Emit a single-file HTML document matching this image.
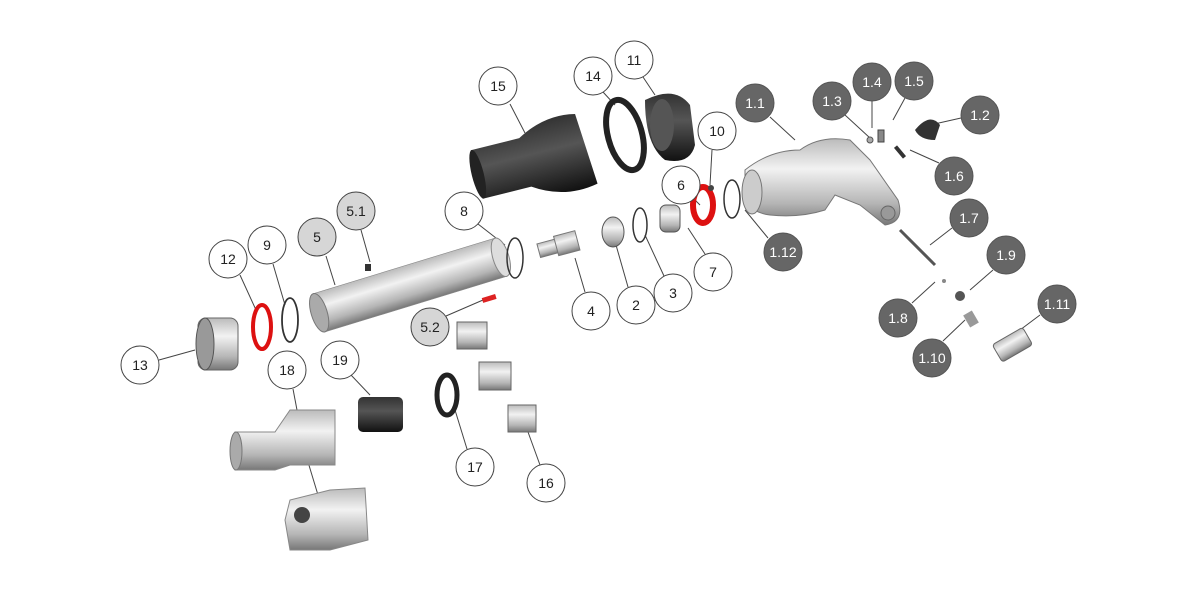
<!DOCTYPE html>
<html><head><meta charset="utf-8"><style>
html,body{margin:0;padding:0;background:#fff;}
svg{display:block;}
text{font-family:"Liberation Sans",Arial,sans-serif;font-size:14px;text-anchor:middle;dominant-baseline:central;}
</style></head><body>
<svg width="1200" height="600" viewBox="0 0 1200 600" xmlns="http://www.w3.org/2000/svg">
<defs>
<linearGradient id="g" x1="0" y1="0" x2="0" y2="1">
<stop offset="0" stop-color="#bbb"/><stop offset="0.35" stop-color="#f2f2f2"/><stop offset="0.75" stop-color="#b5b5b5"/><stop offset="1" stop-color="#777"/></linearGradient>
<linearGradient id="k" x1="0" y1="0" x2="0" y2="1">
<stop offset="0" stop-color="#333"/><stop offset="0.4" stop-color="#555"/><stop offset="1" stop-color="#111"/></linearGradient>
</defs>
<!-- leader lines -->
<g stroke="#444" stroke-width="1" fill="none">
<line x1="510" y1="104" x2="525" y2="133"/>
<line x1="603" y1="92" x2="615" y2="105"/>
<line x1="643" y1="77" x2="655" y2="95"/>
<line x1="712" y1="150" x2="710" y2="185"/>
<line x1="693" y1="198" x2="700" y2="205"/>
<line x1="770" y1="117" x2="795" y2="140"/>
<line x1="845" y1="115" x2="870" y2="138"/>
<line x1="872" y1="101" x2="872" y2="128"/>
<line x1="905" y1="98" x2="893" y2="120"/>
<line x1="961" y1="118" x2="930" y2="125"/>
<line x1="939" y1="163" x2="910" y2="150"/>
<line x1="952" y1="228" x2="930" y2="245"/>
<line x1="768" y1="238" x2="745" y2="210"/>
<line x1="993" y1="270" x2="970" y2="290"/>
<line x1="1040" y1="315" x2="1020" y2="330"/>
<line x1="912" y1="303" x2="935" y2="282"/>
<line x1="943" y1="341" x2="965" y2="320"/>
<line x1="478" y1="224" x2="505" y2="245"/>
<line x1="273" y1="264" x2="285" y2="305"/>
<line x1="240" y1="275" x2="256" y2="310"/>
<line x1="326" y1="256" x2="335" y2="285"/>
<line x1="361" y1="230" x2="370" y2="262"/>
<line x1="446" y1="316" x2="483" y2="300"/>
<line x1="585" y1="292" x2="575" y2="258"/>
<line x1="628" y1="287" x2="616" y2="245"/>
<line x1="664" y1="276" x2="645" y2="235"/>
<line x1="705" y1="254" x2="688" y2="228"/>
<line x1="159" y1="360" x2="195" y2="350"/>
<line x1="293" y1="389" x2="297" y2="410"/>
<line x1="351" y1="375" x2="370" y2="395"/>
<line x1="467" y1="449" x2="455" y2="410"/>
<line x1="540" y1="465" x2="528" y2="432"/>
<line x1="308" y1="462" x2="318" y2="495"/>
</g>
<!-- parts -->
<!-- 15 hose -->
<g transform="rotate(-14 535 160)"><path d="M475 135 L525 135 Q555 118 585 125 L590 198 Q555 205 525 185 L475 185 Z" fill="url(#k)"/><ellipse cx="476" cy="160" rx="6" ry="25" fill="#222"/></g>
<ellipse cx="625" cy="135" rx="17" ry="36" fill="none" stroke="#222" stroke-width="6" transform="rotate(-15 625 135)"/>
<path d="M645 100 Q675 85 690 105 L695 145 Q690 165 665 160 Q645 145 645 100Z" fill="url(#k)"/>
<ellipse cx="662" cy="125" rx="12" ry="26" fill="#555"/>
<!-- 5 barrel -->
<g transform="rotate(-17 410 285)"><rect x="315" y="265" width="190" height="40" fill="url(#g)" stroke="#888" stroke-width="0.6"/><ellipse cx="315" cy="285" rx="8" ry="20" fill="#aaa" stroke="#777"/><ellipse cx="505" cy="285" rx="8" ry="20" fill="#ddd" stroke="#888"/></g>
<rect x="365" y="264" width="6" height="7" fill="#333"/>
<rect x="482" y="296" width="14" height="5" fill="#d22" transform="rotate(-17 489 298)"/>
<!-- 13 nut -->
<rect x="198" y="318" width="40" height="52" rx="8" fill="url(#g)" stroke="#666"/>
<ellipse cx="205" cy="344" rx="9" ry="26" fill="#999" stroke="#555"/>
<ellipse cx="262" cy="327" rx="9" ry="22" fill="none" stroke="#d11" stroke-width="4"/>
<ellipse cx="290" cy="320" rx="8" ry="22" fill="none" stroke="#333" stroke-width="1.8"/>
<ellipse cx="515" cy="258" rx="8" ry="20" fill="none" stroke="#333" stroke-width="1.5"/>
<!-- 4 pin -->
<g transform="rotate(-15 560 245)"><rect x="538" y="238" width="20" height="14" fill="url(#g)" stroke="#777"/><rect x="556" y="235" width="22" height="20" fill="url(#g)" stroke="#777"/></g>
<ellipse cx="613" cy="232" rx="11" ry="15" fill="url(#g)" stroke="#555"/>
<ellipse cx="640" cy="225" rx="7" ry="17" fill="none" stroke="#333" stroke-width="1.5"/>
<rect x="660" y="205" width="20" height="27" rx="6" fill="url(#g)" stroke="#555"/>
<ellipse cx="703" cy="205" rx="10" ry="18" fill="none" stroke="#d11" stroke-width="6"/>
<circle cx="711" cy="188" r="3" fill="#444"/>
<ellipse cx="732" cy="199" rx="8" ry="19" fill="none" stroke="#333" stroke-width="1.5"/>
<!-- 1.1 handle -->
<path d="M745 170 Q770 150 800 150 Q820 135 850 140 L870 160 L898 200 Q905 222 885 225 L860 205 L835 195 L825 210 Q800 218 770 215 Q745 212 745 190Z" fill="url(#g)" stroke="#777"/>
<ellipse cx="752" cy="192" rx="10" ry="22" fill="#ccc" stroke="#777"/>
<circle cx="888" cy="213" r="7" fill="#999" stroke="#666"/>
<!-- small parts -->
<circle cx="870" cy="140" r="3" fill="#aaa" stroke="#555"/>
<rect x="878" y="130" width="6" height="12" fill="#888" stroke="#444"/>
<path d="M915 130 Q930 112 940 125 L935 140 Q920 140 915 130Z" fill="#333"/>
<rect x="898" y="145" width="4" height="14" fill="#333" transform="rotate(-40 900 152)"/>
<line x1="900" y1="230" x2="935" y2="265" stroke="#555" stroke-width="3"/>
<circle cx="944" cy="281" r="2" fill="#888"/>
<circle cx="960" cy="296" r="5" fill="#555"/>
<rect x="966" y="312" width="10" height="14" fill="#999" transform="rotate(-30 971 319)"/>
<g transform="rotate(-30 1012 345)"><rect x="995" y="335" width="35" height="20" rx="3" fill="url(#g)" stroke="#666"/></g>
<!-- bushings -->
<rect x="457" y="322" width="30" height="27" fill="url(#g)" stroke="#666"/>
<rect x="479" y="362" width="32" height="28" fill="url(#g)" stroke="#666"/>
<rect x="508" y="405" width="28" height="27" fill="url(#g)" stroke="#666"/>
<ellipse cx="447" cy="395" rx="10" ry="20" fill="none" stroke="#222" stroke-width="5"/>
<rect x="358" y="397" width="45" height="35" rx="5" fill="url(#k)"/>
<!-- 18 -->
<path d="M235 432 L275 432 L290 410 L335 410 L335 465 L290 465 L275 470 L235 470Z" fill="url(#g)" stroke="#888"/>
<ellipse cx="236" cy="451" rx="6" ry="19" fill="#aaa" stroke="#777"/>
<!-- nozzle -->
<path d="M285 520 L290 500 L330 490 L365 488 L368 540 L330 550 L290 550Z" fill="url(#g)" stroke="#888"/>
<ellipse cx="302" cy="515" rx="8" ry="8" fill="#444"/>
<!-- callouts -->
<g stroke="#444" stroke-width="1">
<g fill="#fff">
<circle cx="498" cy="86" r="19"/><circle cx="593" cy="76" r="19"/><circle cx="634" cy="60" r="19"/>
<circle cx="717" cy="131" r="19"/><circle cx="681" cy="185" r="19"/><circle cx="464" cy="211" r="19"/>
<circle cx="267" cy="245" r="19"/><circle cx="228" cy="259" r="19"/><circle cx="591" cy="311" r="19"/>
<circle cx="636" cy="305" r="19"/><circle cx="673" cy="293" r="19"/><circle cx="713" cy="272" r="19"/>
<circle cx="140" cy="365" r="19"/><circle cx="287" cy="370" r="19"/><circle cx="340" cy="360" r="19"/>
<circle cx="475" cy="467" r="19"/><circle cx="546" cy="483" r="19"/>
</g>
<g fill="#d6d6d6">
<circle cx="317" cy="237" r="19"/><circle cx="356" cy="211" r="19"/><circle cx="430" cy="327" r="19"/>
</g>
<g fill="#666" stroke="#555">
<circle cx="755" cy="103" r="19"/><circle cx="832" cy="101" r="19"/><circle cx="872" cy="82" r="19"/>
<circle cx="914" cy="81" r="19"/><circle cx="980" cy="115" r="19"/><circle cx="954" cy="176" r="19"/>
<circle cx="969" cy="218" r="19"/><circle cx="783" cy="252" r="19"/><circle cx="1006" cy="255" r="19"/>
<circle cx="1057" cy="304" r="19"/><circle cx="898" cy="318" r="19"/><circle cx="932" cy="358" r="19"/>
</g>
</g>
<g fill="#222">
<text x="498" y="86">15</text><text x="593" y="76">14</text><text x="634" y="60">11</text>
<text x="717" y="131">10</text><text x="681" y="185">6</text><text x="464" y="211">8</text>
<text x="267" y="245">9</text><text x="228" y="259">12</text><text x="591" y="311">4</text>
<text x="636" y="305">2</text><text x="673" y="293">3</text><text x="713" y="272">7</text>
<text x="140" y="365">13</text><text x="287" y="370">18</text><text x="340" y="360">19</text>
<text x="475" y="467">17</text><text x="546" y="483">16</text>
<text x="317" y="237">5</text><text x="356" y="211">5.1</text><text x="430" y="327">5.2</text>
</g>
<g fill="#fff">
<text x="755" y="103">1.1</text><text x="832" y="101">1.3</text><text x="872" y="82">1.4</text>
<text x="914" y="81">1.5</text><text x="980" y="115">1.2</text><text x="954" y="176">1.6</text>
<text x="969" y="218">1.7</text><text x="783" y="252">1.12</text><text x="1006" y="255">1.9</text>
<text x="1057" y="304">1.11</text><text x="898" y="318">1.8</text><text x="932" y="358">1.10</text>
</g>
</svg>
</body></html>
